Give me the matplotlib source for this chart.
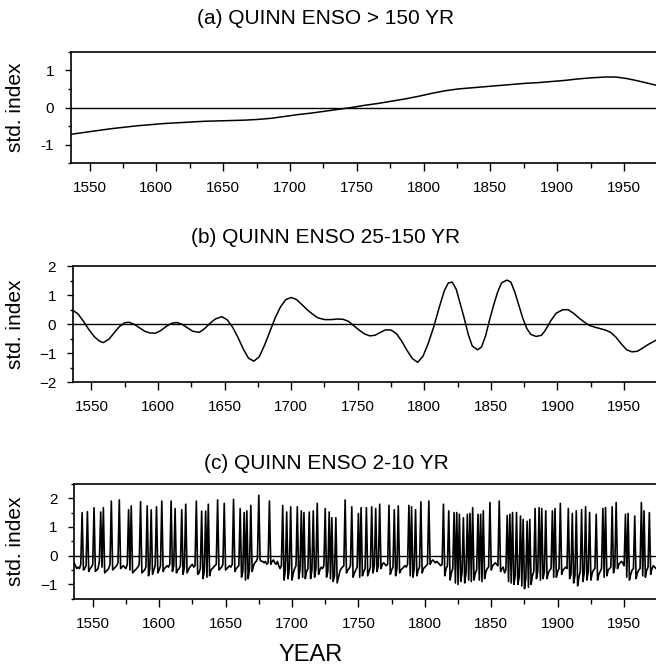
import numpy as np
import matplotlib
matplotlib.use("Agg")
import matplotlib.pyplot as plt
from matplotlib.ticker import MultipleLocator

plt.rcParams["font.family"] = ["Liberation Sans", "DejaVu Sans"]

# (a) > 150 yr component
years_a = [1536, 1546, 1556, 1566, 1576, 1586, 1596, 1606, 1616, 1626, 1636, 1646,
           1656, 1666, 1676, 1686, 1696, 1706, 1716, 1726, 1736, 1746, 1756, 1766,
           1776, 1786, 1796, 1806, 1816, 1826, 1836, 1846, 1856, 1866, 1876, 1886,
           1896, 1906, 1916, 1926, 1936, 1944, 1952, 1960, 1966, 1974]
vals_a = [-0.72, -0.67, -0.62, -0.57, -0.53, -0.49, -0.46, -0.43, -0.41, -0.39, -0.37, -0.36,
          -0.35, -0.34, -0.32, -0.29, -0.24, -0.19, -0.15, -0.10, -0.05, 0.00, 0.06, 0.11,
          0.17, 0.23, 0.30, 0.38, 0.45, 0.50, 0.53, 0.56, 0.59, 0.62, 0.65, 0.67,
          0.70, 0.73, 0.77, 0.80, 0.82, 0.82, 0.78, 0.72, 0.67, 0.60]

# (b) 25-150 yr component
years_b = [1536, 1540, 1544, 1548, 1552, 1556, 1559, 1563, 1567, 1571, 1575, 1578,
           1582, 1586, 1590, 1594, 1598, 1602, 1606, 1610, 1614, 1618, 1622, 1626,
           1631, 1635, 1639, 1643, 1648, 1652, 1656, 1660, 1664, 1668, 1672, 1676,
           1680, 1684, 1688, 1692, 1696, 1700, 1704, 1708, 1712, 1716, 1720, 1725,
           1730, 1735, 1739, 1743, 1747, 1751, 1755, 1759, 1763, 1767, 1771, 1775,
           1779, 1783, 1787, 1791, 1795, 1799, 1803, 1807, 1811, 1815, 1818, 1821,
           1824, 1827, 1830, 1833, 1836, 1840, 1843, 1846, 1849, 1852, 1855, 1858,
           1862, 1865, 1868, 1871, 1874, 1877, 1880, 1884, 1888, 1891, 1895, 1899,
           1904, 1908, 1912, 1916, 1920, 1924, 1928, 1932, 1936, 1940, 1944, 1948,
           1952, 1956, 1960, 1964, 1968, 1974]
vals_b = [0.48, 0.35, 0.10, -0.18, -0.42, -0.58, -0.63, -0.52, -0.30, -0.08, 0.05, 0.07,
          0.00, -0.12, -0.24, -0.30, -0.31, -0.22, -0.08, 0.03, 0.06, 0.00, -0.12, -0.24,
          -0.28, -0.15, 0.03, 0.18, 0.26, 0.15, -0.10, -0.45, -0.85, -1.17, -1.27, -1.12,
          -0.72, -0.25, 0.22, 0.60, 0.85, 0.92, 0.85, 0.68, 0.50, 0.35, 0.22, 0.16,
          0.16, 0.18, 0.17, 0.10, -0.05, -0.20, -0.33, -0.40, -0.38, -0.28, -0.19, -0.20,
          -0.32, -0.58, -0.90, -1.18, -1.31, -1.10, -0.65, -0.10, 0.55, 1.15, 1.42, 1.45,
          1.20, 0.70, 0.20, -0.35, -0.75, -0.88, -0.78, -0.40, 0.15, 0.65, 1.10, 1.42,
          1.52, 1.45, 1.10, 0.65, 0.20, -0.15, -0.35, -0.42, -0.38, -0.20, 0.12, 0.38,
          0.50, 0.50, 0.38, 0.22, 0.08, -0.04, -0.10, -0.15, -0.20, -0.28, -0.45, -0.68,
          -0.88, -0.95, -0.93, -0.82, -0.70, -0.55]

# (c) 2-10 yr component, annual values 1536-1974
years_c = np.arange(1536, 1975)
vals_c = [
    -0.25, -0.35, -0.45, -0.40,
    -0.45, -0.30, 1.50, -0.50, -0.45, -0.35, 1.53, -0.55, -0.45, -0.40,   # 1540s
    -0.30, 1.67, -0.55, -0.50, -0.45, -0.20, 1.52, -0.40, 1.67, -0.60,    # 1550s
    -0.55, -0.50, -0.45, -0.30, 1.90, -0.50, -0.45, -0.40, -0.35, -0.25,  # 1560s
    1.94, -0.45, -0.40, -0.35, -0.40, -0.45, -0.30, 1.60, -0.50, 1.73,    # 1570s
    -0.60, -0.55, -0.50, -0.45, -0.40, -0.30, 1.88, -0.60, -0.55, -0.50,  # 1580s
    -0.40, 1.73, -0.70, -0.45, 1.60, -0.65, -0.50, -0.35, 1.70, -0.60,    # 1590s
    -0.50, -0.35, 1.90, -0.55, -0.45, -0.40, -0.35, -0.40, -0.30, 1.90,   # 1600s
    -0.55, -0.35, 1.64, -0.60, -0.50, -0.45, -0.35, 1.60, -0.65, -0.40,   # 1610s
    1.79, -0.60, -0.50, -0.40, -0.35, -0.30, -0.40, -0.35, 1.90, -0.65,   # 1620s
    -0.60, -0.45, 1.55, -0.80, -0.55, 1.55, -0.75, 1.79, -0.70, -0.50,    # 1630s
    -0.45, -0.40, -0.35, -0.30, 1.94, -0.50, -0.45, -0.40, -0.30, 1.82,   # 1640s
    -0.50, -0.45, -0.40, -0.35, -0.40, -0.30, 1.96, -0.55, -0.45, -0.40,  # 1650s
    -0.35, 1.64, -0.75, -0.55, 1.50, -0.85, 1.56, -0.80, -0.45, 1.75,     # 1660s
    -0.55, -0.35, -0.25, -0.20, -0.10, 2.10, -0.15, -0.20, -0.20, -0.25,  # 1670s
    -0.20, -0.30, -0.25, 1.90, -0.30, -0.20, -0.15, -0.25, -0.30, -0.20,  # 1680s
    -0.35, -0.45, -0.35, 1.75, -0.85, -0.50, 1.52, -0.80, -0.45, 1.70,    # 1690s
    -0.85, -0.60, -0.45, -0.35, 1.70, -0.80, -0.50, 1.56, -0.75, 1.50,    # 1700s
    -0.80, -0.55, -0.45, 1.52, -0.80, -0.50, 1.56, -0.75, -0.45, 1.82,    # 1710s
    -0.65, -0.50, -0.40, -0.45, -0.35, 1.64, -0.75, -0.55, 1.52, -0.80,   # 1720s
    1.32, -0.90, -0.70, 1.32, -0.95, -0.75, -0.55, -0.45, -0.40, -0.35,   # 1730s
    1.94, -0.60, -0.50, -0.45, -0.35, 1.70, -0.75, -0.60, -0.50, -0.40,   # 1740s
    1.47, -0.75, 1.67, -0.70, -0.55, -0.45, 1.67, -0.70, -0.55, -0.40,    # 1750s
    1.70, -0.60, -0.35, 1.64, -0.55, -0.35, 1.79, -0.45, -0.30, -0.25,    # 1760s
    -0.30, -0.35, -0.30, 1.75, -0.65, -0.50, -0.40, 1.60, -0.70, -0.45,   # 1770s
    1.73, -0.60, -0.50, -0.45, -0.40, -0.35, -0.40, -0.30, 1.75, -0.70,   # 1780s
    1.70, -0.75, -0.45, 1.60, -0.70, -0.50, -0.40, 1.87, -0.60, -0.45,    # 1790s
    -0.40, -0.35, -0.30, 1.90, -0.30, -0.20, -0.15, -0.20, -0.25, -0.20,  # 1800s
    -0.25, -0.30, -0.35, -0.30, 1.79, -0.70, -0.45, -0.35, 1.56, -0.85,   # 1810s
    -0.60, -0.45, 1.50, -0.95, 1.50, -1.00, 1.44, -0.90, -0.60, 1.32,     # 1820s
    -0.95, -0.60, 1.44, -0.85, 1.47, -0.90, 1.67, -0.85, -0.60, -0.50,    # 1830s
    1.44, -0.85, 1.44, -0.90, 1.56, -0.80, -0.55, -0.45, -0.40, 1.85,     # 1840s
    -0.50, -0.35, -0.30, -0.25, -0.30, -0.35, 1.90, -0.55, -0.45, -0.40,  # 1850s
    -0.60, -0.50, 1.40, -0.90, 1.44, -0.95, 1.50, -1.00, -0.70, 1.50,     # 1860s
    -1.00, -0.75, 1.38, -1.05, 1.26, -1.15, -0.80, 1.20, -1.10, 1.26,     # 1870s
    -1.00, -0.70, -0.55, 1.64, -0.80, -0.55, 1.67, -0.85, 1.64, -0.80,    # 1880s
    -0.55, 1.56, -0.80, -0.60, -0.50, -0.45, 1.56, -0.75, 1.64, -0.75,    # 1890s
    -0.55, -0.45, 1.82, -0.65, -0.50, -0.45, -0.40, -0.45, 1.64, -0.80,   # 1900s
    -0.65, 1.47, -0.95, -0.70, 1.56, -1.05, -0.75, -0.55, 1.60, -0.90,    # 1910s
    -0.60, 1.70, -0.85, -0.55, 1.50, -0.85, -0.60, -0.50, -0.45, 1.44,    # 1920s
    -0.85, -0.65, -0.55, -0.45, 1.64, -0.75, 1.67, -0.70, -0.50, -0.45,   # 1930s
    -0.40, 1.70, -0.60, -0.40, 1.85, -0.45, -0.30, -0.25, -0.20, -0.25,   # 1940s
    -0.35, 1.44, -0.75, 1.47, -0.85, -0.65, -0.50, -0.45, 1.38, -0.80,    # 1950s
    -0.60, -0.50, -0.45, 1.85, -0.70, 1.56, -0.75, -0.50, -0.40, 1.50,    # 1960s
    -0.65, -0.45, -0.35, -0.40, -0.45,
]

titles = ["(a) QUINN ENSO > 150 YR", "(b) QUINN ENSO 25-150 YR", "(c) QUINN ENSO 2-10 YR"]
series = [(years_a, vals_a), (years_b, vals_b), (years_c, vals_c)]
ylims = [(-1.5, 1.5), (-2, 2), (-1.5, 2.5)]
yticks = [[-1, 0, 1], [-2, -1, 0, 1, 2], [-1, 0, 1, 2]]
xticks = [1550, 1600, 1650, 1700, 1750, 1800, 1850, 1900, 1950]

# axes boxes (left, bottom, top) in figure fractions
boxes = [(0.108, 0.757, 0.923), (0.111, 0.431, 0.604), (0.113, 0.109, 0.280)]
title_y = [0.973, 0.646, 0.311]

fig = plt.figure(figsize=(6.56, 6.72), dpi=100)

for i in range(3):
    left, bottom, top = boxes[i]
    ax = fig.add_axes([left, bottom, 1.0 - left, top - bottom])
    x, y = series[i]
    ax.axhline(0, color="black", lw=1.0)
    ax.plot(x, y, color="black", lw=1.1 if i < 2 else 1.2)
    ax.set_xlim(1536, 1974)
    ax.set_ylim(*ylims[i])
    ax.set_xticks(xticks)
    ax.xaxis.set_minor_locator(MultipleLocator(25))
    ax.set_yticks(yticks[i])
    ax.yaxis.set_minor_locator(MultipleLocator(0.5))
    ax.set_yticklabels([str(t).replace("-", "\u2212") if i > 0 else str(t) for t in yticks[i]])
    ax.tick_params(axis="x", which="major", direction="out", length=6, width=1.0,
                   labelsize=11, pad=7)
    ax.tick_params(axis="x", which="minor", direction="out", length=3.5, width=1.0)
    ax.tick_params(axis="y", which="major", direction="out", length=4, width=1.0,
                   labelsize=11, pad=8)
    ax.tick_params(axis="y", which="minor", direction="out", length=2.5, width=1.0)
    ax.spines["right"].set_visible(False)
    for s in ["left", "top", "bottom"]:
        ax.spines[s].set_linewidth(1.2)
    fig.text(0.497, title_y[i], titles[i], ha="center", va="center", fontsize=15)
    fig.text(0.024, (bottom + top) / 2, "std. index", rotation=90,
             ha="center", va="center", fontsize=15)

fig.text(0.473, 0.025, "YEAR", ha="center", va="center", fontsize=17)

fig.savefig("out.png", dpi=100)
